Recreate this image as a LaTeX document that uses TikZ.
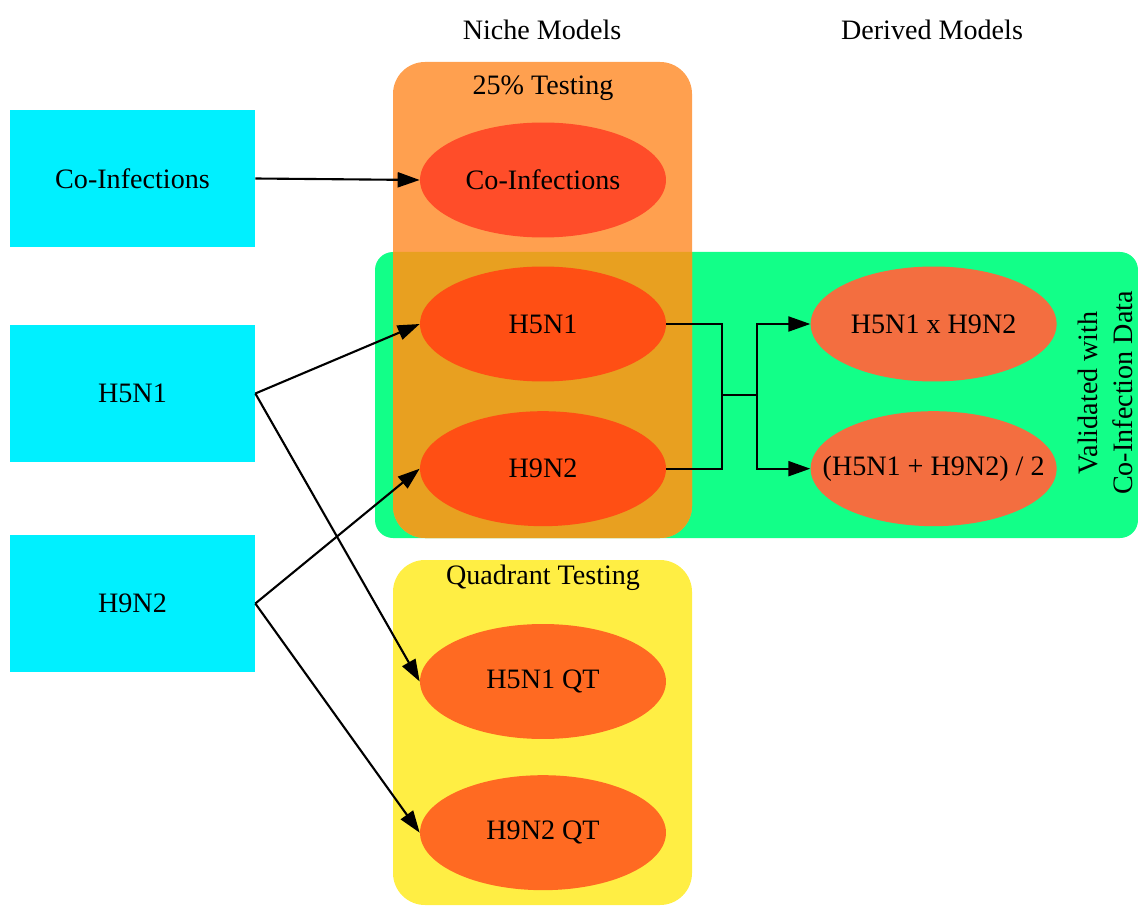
\documentclass[tikz,border=0pt]{standalone}
\usepackage{fontspec}
\setmainfont{Liberation Serif}
\usepackage{tikz}
\usetikzlibrary{positioning,shapes.geometric,arrows.meta}

\definecolor{srccyan}{HTML}{00F0FF}
\definecolor{testorange}{HTML}{FFA04F}
\definecolor{validgreen}{HTML}{12FF88}
\definecolor{overlapgold}{HTML}{E8A020}
\definecolor{qtyellow}{HTML}{FFEE44}
\definecolor{coinfred}{HTML}{FF4D29}
\definecolor{nichered}{HTML}{FF4F14}
\definecolor{derivedred}{HTML}{F36E40}
\definecolor{qtred}{HTML}{FF6A22}

\begin{document}
\begin{tikzpicture}[x=0.02cm, y=-0.02cm,
    every node/.style={font=\fontsize{16}{20}\selectfont},
    source/.style={rectangle, fill=srccyan, minimum width=4.9cm, minimum height=2.74cm},
    model/.style={ellipse, inner sep=0pt, minimum width=4.92cm, minimum height=2.3cm},
    wire/.style={line width=1.2pt},
    link/.style={wire, -{Triangle[length=0.44cm, width=0.3cm]}}]
    \useasboundingbox (0,0) rectangle (1138,905);

    % Riquadri
    \fill[validgreen, rounded corners=0.36cm] (375,252) rectangle (1138,538);
    \fill[testorange, rounded corners=0.64cm] (393,62) rectangle (692,538);
    \begin{scope}
      \clip[rounded corners=0.36cm] (375,252) rectangle (1138,538);
      \fill[overlapgold, rounded corners=0.64cm] (393,62) rectangle (692,538);
    \end{scope}
    \fill[qtyellow, rounded corners=0.64cm] (393,560) rectangle (692,905);

    \node (nichehdr) at (542,30) {Niche Models};
    \node (derivedhdr) at (932,30) {Derived Models};
    \node (pcthdr) at (543,88) {25\% Testing};
    \node (qthdr) at (543,578) {Quadrant Testing};
    \node[rotate=90, align=center] (validlbl) at (1105,393) {Validated with\\Co-Infection Data};

    % Dati
    \node[source] (srcco) at (132.5,178.5) {Co-Infections};
    \node[source] (srch5) at (132.5,393.5) {H5N1};
    \node[source] (srch9) at (132.5,603.5) {H9N2};

    % Modelli
    \node[model, fill=coinfred] (co) at (543,180) {Co-Infections};
    \node[model, fill=nichered] (h5) at (543,324) {H5N1};
    \node[model, fill=nichered, below=0.58cm of h5] (h9) {H9N2};
    \node[model, fill=derivedred, right=2.88cm of h5] (prod) {H5N1 x H9N2};
    \node[model, fill=derivedred, inner xsep=-0.6cm, below=0.58cm of prod] (mean) {(H5N1 + H9N2) / 2};
    \node[model, fill=qtred] (h5qt) at (543,681.5) {H5N1 QT};
    \node[model, fill=qtred, below=0.71cm of h5qt] (h9qt) {H9N2 QT};

    \coordinate (merge) at (722,395);
    \coordinate (split) at (757,395);

    \draw[link] (srcco.east) -- (co.west);
    \draw[link] (srch5.east) -- (h5.west);
    \draw[link] (srch5.east) -- (h5qt.west);
    \draw[link] (srch9.east) -- (h9.west);
    \draw[link] (srch9.east) -- (h9qt.west);
    \draw[wire] (h5.east) -| (merge);
    \draw[wire] (h9.east) -| (merge) -- (split);
    \draw[link] (split) |- (prod.west);
    \draw[link] (split) |- (mean.west);
\end{tikzpicture}
\end{document}
